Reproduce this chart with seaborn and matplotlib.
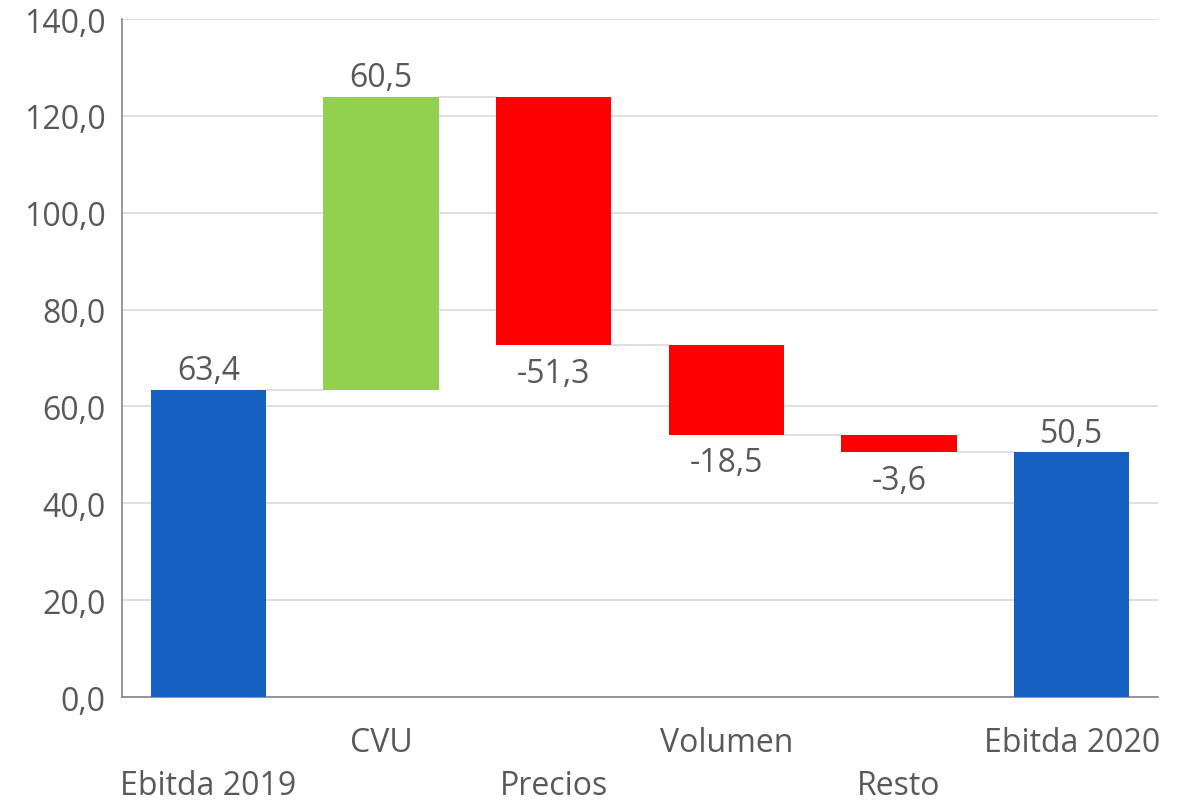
import numpy as np
import seaborn as sns
import matplotlib.pyplot as plt

# === Dati ===
categorie = ["Ebitda 2019", "CVU", "Precios", "Volumen", "Resto", "Ebitda 2020"]
variazioni = [63.4, 60.5, -51.3, -18.5, -3.6, 50.5]
tipo = ["totale", "delta", "delta", "delta", "delta", "totale"]

colori = {"Ebitda 2019": "#1560c1", "CVU": "#92d050", "Precios": "#ff0000",
          "Volumen": "#ff0000", "Resto": "#ff0000", "Ebitda 2020": "#1560c1"}

# livelli cumulati
base, altezze, livelli = [], [], []
cum = 0.0
for v, t in zip(variazioni, tipo):
    if t == "totale":
        base.append(0.0)
        altezze.append(v)
        cum = v
    else:
        nuovo = cum + v
        base.append(min(cum, nuovo))
        altezze.append(abs(v))
        cum = nuovo
    livelli.append(cum)

sns.set_style("white")
plt.rcParams["font.family"] = ["Open Sans", "DejaVu Sans"]
grigio_testo = "#595959"
fs = 23

fig = plt.figure(figsize=(11.86, 8.04), dpi=100)
ax = fig.add_axes([0.1029, 0.1318, 0.8735, 0.8433])

larghezza = 0.667
sns.barplot(x=categorie, y=altezze, hue=categorie, palette=colori, legend=False,
            width=larghezza, saturation=1, linewidth=0, ax=ax, zorder=3)
for patch, b in zip(ax.patches, base):
    patch.set_y(b)

# linee di collegamento
for i in range(len(categorie) - 1):
    ax.plot([i + larghezza / 2, i + 1 - larghezza / 2], [livelli[i], livelli[i]],
            color="#d9d9d9", lw=1.2, zorder=2)

# etichette valori
for i, (v, t) in enumerate(zip(variazioni, tipo)):
    testo = f"{v:.1f}".replace(".", ",")
    if v >= 0:
        y = base[i] + altezze[i]
        ax.annotate(testo, (i, y), xytext=(0, 2), textcoords="offset points",
                    ha="center", va="bottom", fontsize=fs, color=grigio_testo)
    else:
        y = base[i]
        ax.annotate(testo, (i, y), xytext=(0, -8), textcoords="offset points",
                    ha="center", va="top", fontsize=fs, color=grigio_testo)

# assi
ax.set_ylim(0, 140)
ax.set_xlim(-0.5, len(categorie) - 0.5)
ax.set_yticks(np.arange(0, 141, 20))
ax.set_yticklabels([f"{t:.1f}".replace(".", ",") for t in np.arange(0, 141, 20)])
ax.yaxis.grid(True, color="#d9d9d9", lw=1.2, zorder=0)
ax.set_axisbelow(True)
ax.set_xlabel("")
ax.set_ylabel("")

for s in ["top", "right"]:
    ax.spines[s].set_visible(False)
for s in ["left", "bottom"]:
    ax.spines[s].set_color("#868686")
    ax.spines[s].set_linewidth(1.2)

ax.tick_params(axis="y", direction="out", length=6, width=1.2, color="#868686",
               labelsize=fs, labelcolor=grigio_testo, pad=6)
ax.set_xticks(np.arange(-0.5, len(categorie)), minor=True)
ax.tick_params(axis="x", which="minor", direction="out", length=6, width=1.2,
               color="#868686")
ax.tick_params(axis="x", which="major", length=0, labelsize=fs,
               labelcolor=grigio_testo)
for i, tick in enumerate(ax.xaxis.get_major_ticks()):
    tick.set_pad(21 if i % 2 == 1 else 52)

fig.savefig("out.png", dpi=100)
